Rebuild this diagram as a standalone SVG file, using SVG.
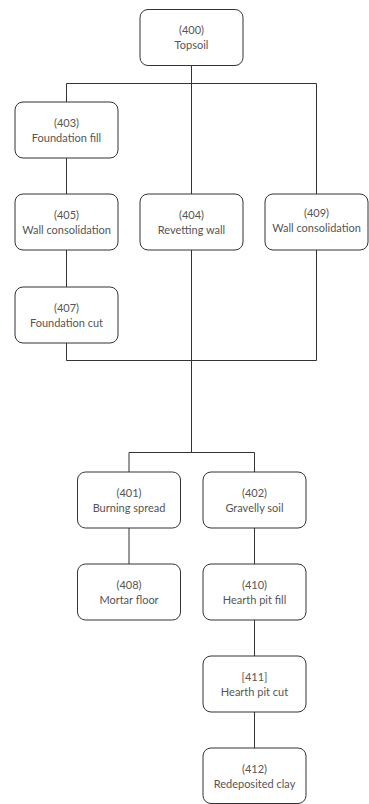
<svg xmlns="http://www.w3.org/2000/svg" width="369" height="804" viewBox="0 0 369 804">
<style>
.n rect{fill:#fff;stroke:#333;stroke-width:1}
.n text{font-family:Lato,"Open Sans",sans-serif;font-size:11px;fill:#555;text-anchor:middle}
.c path{fill:none;stroke:#333;stroke-width:1}
</style>
<rect width="369" height="804" fill="#fff"/>
<g class="c">
<path d="M191.5 65.5V83.5M66.5 83.5H316.5M66.5 83.5V102M191.5 83.5V194M316.5 83.5V194"/>
<path d="M66.5 158V194M66.5 250V287"/>
<path d="M66.5 343V360.5H316.5V250M191.5 250V452.5"/>
<path d="M129 452.5H254.5M129 452.5V472M254.5 452.5V472"/>
<path d="M129 528V564M254.5 528V564M254.5 620V656M254.5 712V748"/>
</g>
<g class="n" id="n400"><rect x="140" y="9.5" width="103" height="56" rx="8"/><text x="191.5" y="34">(400)</text><text x="191.5" y="49">Topsoil</text></g>
<g class="n" id="n403"><rect x="15" y="102" width="103" height="56" rx="8"/><text x="66.5" y="126.5">(403)</text><text x="66.5" y="141.5">Foundation fill</text></g>
<g class="n" id="n405"><rect x="15" y="194" width="103" height="56" rx="8"/><text x="66.5" y="218.5">(405)</text><text x="66.5" y="233.5">Wall consolidation</text></g>
<g class="n" id="n404"><rect x="140" y="194" width="103" height="56" rx="8"/><text x="191.5" y="218.5">(404)</text><text x="191.5" y="233.5">Revetting wall</text></g>
<g class="n" id="n409"><rect x="265" y="194" width="103" height="56" rx="8"/><text x="316.5" y="216.5">(409)</text><text x="316.5" y="231.5">Wall consolidation</text></g>
<g class="n" id="n407"><rect x="15" y="287" width="103" height="56" rx="8"/><text x="66.5" y="311.5">(407)</text><text x="66.5" y="326.5">Foundation cut</text></g>
<g class="n" id="n401"><rect x="77.5" y="472" width="103" height="56" rx="8"/><text x="129" y="496.5">(401)</text><text x="129" y="511.5">Burning spread</text></g>
<g class="n" id="n402"><rect x="203" y="472" width="103" height="56" rx="8"/><text x="254.5" y="496.5">(402)</text><text x="254.5" y="511.5">Gravelly soil</text></g>
<g class="n" id="n408"><rect x="77.5" y="564" width="103" height="56" rx="8"/><text x="129" y="588.5">(408)</text><text x="129" y="603.5">Mortar floor</text></g>
<g class="n" id="n410"><rect x="203" y="564" width="103" height="56" rx="8"/><text x="254.5" y="588.5">(410)</text><text x="254.5" y="603.5">Hearth pit fill</text></g>
<g class="n" id="n411"><rect x="203" y="656" width="103" height="56" rx="8"/><text x="254.5" y="680.5">[411]</text><text x="254.5" y="695.5">Hearth pit cut</text></g>
<g class="n" id="n412"><rect x="203" y="748" width="103" height="55.5" rx="8"/><text x="254.5" y="772.5">(412)</text><text x="254.5" y="787.5">Redeposited clay</text></g>
</svg>
